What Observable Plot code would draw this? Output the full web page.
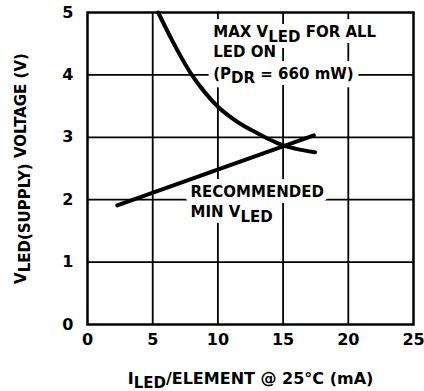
<!DOCTYPE html>
<html><head><meta charset="utf-8">
<script src="https://cdn.jsdelivr.net/npm/d3@7"></script>
<script src="https://cdn.jsdelivr.net/npm/@observablehq/plot@0.6"></script>
<style>body{margin:0;background:#fff;}</style>
</head><body><div id="chart"></div>
<script>
const xTicks = [0, 5, 10, 15, 20, 25];
const yTicks = [0, 1, 2, 3, 4, 5];
const xGrid = [5, 10, 15, 20];
const yGrid = [1, 2, 3, 4];
// MAX V_LED for all LED on (P_DR = 660 mW)
const maxCurrent = [5.42, 6.5, 8.0, 9.0, 10.0, 11.0, 12.0, 13.0, 14.0, 15.0, 16.0, 17.45];
const maxVoltage = [5.0, 4.55, 4.0, 3.72, 3.49, 3.32, 3.18, 3.07, 2.96, 2.87, 2.815, 2.76];
// Recommended min V_LED
const minCurrent = [2.28, 17.36];
const minVoltage = [1.91, 3.03];
// annotations
const noteText = ["MAX V_{LED} FOR ALL", "LED ON", "(P_{DR} = 660 mW)", "RECOMMENDED", "MIN V_{LED}"];
const noteX = [9.64, 9.64, 9.64, 7.9, 7.9];
const noteY = [4.60, 4.28, 3.94, 2.04, 1.72];
const xTitle = "I_{LED}/ELEMENT @ 25°C (mA)";
const yTitle = "V_{LED(SUPPLY)} VOLTAGE (V)";

const FONT = "'DejaVu Sans', sans-serif";
const maxData = maxCurrent.map((c, i) => ({c, v: maxVoltage[i]}));
const minData = minCurrent.map((c, i) => ({c, v: minVoltage[i]}));
const notes = noteText.map((t, i) => ({t, x: noteX[i], y: noteY[i]}));

const chart = Plot.plot({
  width: 424, height: 391,
  marginLeft: 87, marginRight: 11, marginTop: 12, marginBottom: 67,
  style: {fontFamily: FONT, fontWeight: "bold", fontSize: "16px", background: "#fff", color: "#000"},
  x: {domain: [0, 25]},
  y: {domain: [0, 5]},
  marks: [
    Plot.ruleX(xGrid, {stroke: "#000", strokeWidth: 1.8}),
    Plot.ruleY(yGrid, {stroke: "#000", strokeWidth: 1.8}),
    // white knock-out behind the annotations
    Plot.text(notes, {x: "x", y: "y", text: "t", textAnchor: "start", lineAnchor: "bottom",
      fill: "#fff", stroke: "#fff", strokeWidth: 12, fontSize: 15}),
    Plot.text(notes, {x: "x", y: "y", text: "t", textAnchor: "start", lineAnchor: "bottom",
      fill: "#000", fontSize: 15}),
    Plot.line(maxData, {x: "c", y: "v", curve: "monotone-x", stroke: "#000", strokeWidth: 4}),
    Plot.line(minData, {x: "c", y: "v", stroke: "#000", strokeWidth: 4}),
    Plot.frame({stroke: "#000", strokeWidth: 2.5}),
    Plot.axisX(xTicks, {tickSize: 0, tickPadding: 9, label: null, fontSize: 16, tickFormat: "d"}),
    Plot.axisY(yTicks, {tickSize: 0, tickPadding: 14, label: null, fontSize: 16, tickFormat: "d"}),
    Plot.text([xTitle], {frameAnchor: "bottom", dy: 59, lineAnchor: "bottom", textAnchor: "middle", fontSize: 16}),
    Plot.text([yTitle], {frameAnchor: "left", dx: -62, rotate: -90, lineAnchor: "bottom", textAnchor: "middle", fontSize: 15})
  ]
});

// render "_{...}" markup as subscripts (shifted down ~5px)
d3.select(chart).selectAll("text").each(function() {
  const s = this.textContent;
  if (!s.includes("_{")) return;
  const el = d3.select(this);
  const base = parseFloat(getComputedStyle(this).fontSize) || parseFloat(el.attr("font-size")) || 16;
  el.text(null);
  const re = /_\{([^}]*)\}/g;
  let last = 0, m, shifted = false;
  while ((m = re.exec(s)) !== null) {
    if (m.index > last) el.append("tspan").attr("dy", shifted ? "-4.5" : null).text(s.slice(last, m.index));
    el.append("tspan").attr("dy", "4.5").attr("font-size", base - 1).text(m[1]);
    shifted = true;
    last = m.index + m[0].length;
  }
  if (last < s.length) el.append("tspan").attr("dy", shifted ? "-4.5" : null).text(s.slice(last));
});

document.getElementById("chart").append(chart);
</script>
</body></html>
